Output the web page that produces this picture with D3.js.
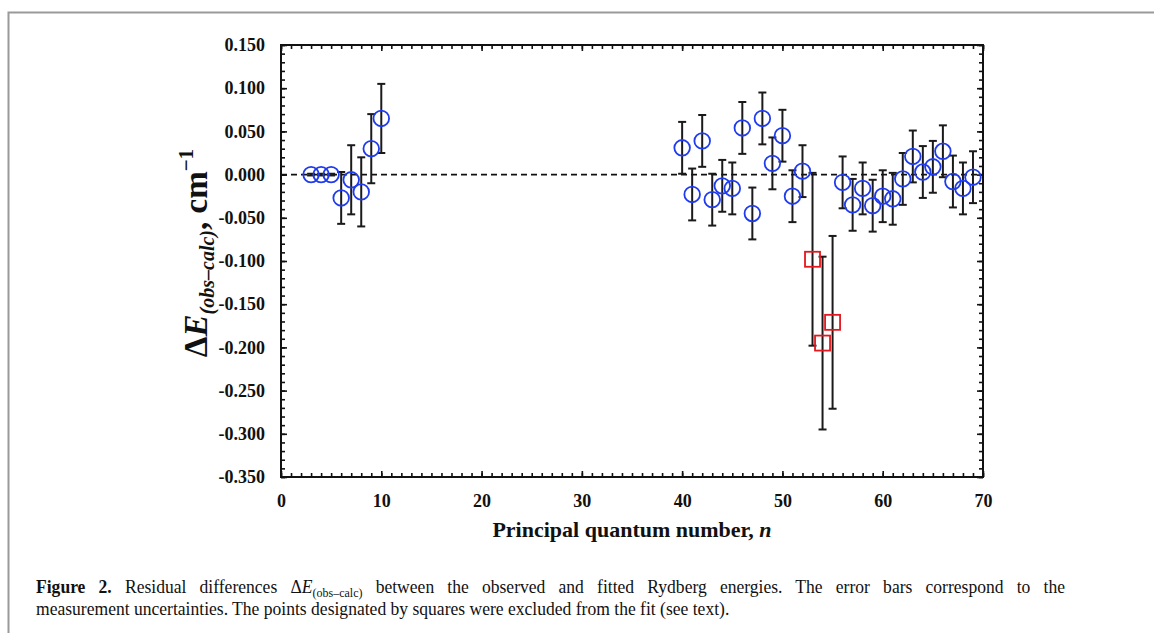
<!DOCTYPE html>
<html>
<head>
<meta charset="utf-8">
<script src="https://cdn.jsdelivr.net/npm/d3@7"></script>
<style>
  body { margin: 0; background: #fff; }
  svg { display: block; }
  .tick text { font-family: "Liberation Serif", "Times New Roman", serif; font-weight: bold; }
</style>
</head>
<body>
<div id="chart"></div>
<script>
// residuals of the fitted levels (circles) and excluded points (squares)
const nCircle = [3, 4, 5, 6, 7, 8, 9, 10,
  40, 41, 42, 43, 44, 45, 46, 47, 48, 49, 50, 51, 52,
  56, 57, 58, 59, 60, 61, 62, 63, 64, 65, 66, 67, 68, 69];
const dECircle = [0.000, 0.000, 0.000, -0.027, -0.006, -0.020, 0.030, 0.065,
  0.031, -0.023, 0.039, -0.029, -0.013, -0.016, 0.054, -0.045, 0.065, 0.013, 0.045, -0.025, 0.004,
  -0.009, -0.035, -0.016, -0.036, -0.025, -0.028, -0.005, 0.021, 0.003, 0.009, 0.027, -0.008, -0.016, -0.003];
const errCircle = [0.001, 0.001, 0.001, 0.030, 0.040, 0.040, 0.040, 0.040,
  0.030, 0.030, 0.030, 0.030, 0.030, 0.030, 0.030, 0.030, 0.030, 0.030, 0.030, 0.030, 0.030,
  0.030, 0.030, 0.030, 0.030, 0.030, 0.030, 0.030, 0.030, 0.030, 0.030, 0.030, 0.030, 0.030, 0.030];

const nSquare = [53, 54, 55];
const dESquare = [-0.098, -0.195, -0.171];
const errSquare = [0.100, 0.100, 0.100];

const xTickValues = [0, 10, 20, 30, 40, 50, 60, 70];
const xTickLabels = ["0", "10", "20", "30", "40", "50", "60", "70"];
const yTickValues = [0.15, 0.10, 0.05, 0.00, -0.05, -0.10, -0.15, -0.20, -0.25, -0.30, -0.35];
const yTickLabels = ["0.150", "0.100", "0.050", "0.000", "-0.050", "-0.100", "-0.150",
  "-0.200", "-0.250", "-0.300", "-0.350"];

const W = 1154, H = 633;
const margin = { top: 45, left: 281, right: 171, bottom: 156 };
const width = W - margin.left - margin.right;
const height = H - margin.top - margin.bottom;
const serif = '"Liberation Serif", "Times New Roman", serif';

const svg = d3.select("#chart").append("svg")
  .attr("width", W)
  .attr("height", H);

// figure frame (top and left edges only)
svg.append("path")
  .attr("d", `M8.5,${H} V12.5 H${W}`)
  .attr("fill", "none")
  .attr("stroke", "#9a9a9a")
  .attr("stroke-width", 2);

const g = svg.append("g").attr("transform", `translate(${margin.left},${margin.top})`);

const x = d3.scaleLinear().domain([0, 70]).range([0, width]);
const y = d3.scaleLinear().domain([-0.35, 0.15]).range([height, 0]);

const minorX = d3.range(0, 71, 1);
const minorY = d3.range(-35, 16, 1).map(d => d / 100);

// ticks on all four sides, pointing inward
function drawAxis(axisFn, scale, values, size, transform, labels) {
  const ax = axisFn(scale).tickValues(values).tickSizeInner(-size).tickSizeOuter(0);
  if (labels) ax.tickFormat((d, i) => labels[i]).tickPadding(size + 10);
  else ax.tickFormat("");
  const sel = g.append("g").attr("transform", transform).call(ax);
  sel.select(".domain").remove();
  sel.selectAll("line").attr("stroke", "#111").attr("stroke-width", 1.6);
  return sel;
}

drawAxis(d3.axisBottom, x, minorX, 4, `translate(0,${height})`);
drawAxis(d3.axisTop, x, minorX, 4, "translate(0,0)");
drawAxis(d3.axisLeft, y, minorY, 4, "translate(0,0)");
drawAxis(d3.axisRight, y, minorY, 4, `translate(${width},0)`);

const xb = drawAxis(d3.axisBottom, x, xTickValues, 6, `translate(0,${height})`, xTickLabels);
xb.selectAll("text").attr("font-size", 18).attr("fill", "#111").attr("dy", "0.71em")
  .attr("y", 17);
drawAxis(d3.axisTop, x, xTickValues, 6, "translate(0,0)");
const yl = drawAxis(d3.axisLeft, y, yTickValues, 6, "translate(0,0)", yTickLabels);
yl.selectAll("text").attr("font-size", 18).attr("fill", "#111").attr("x", -16);
drawAxis(d3.axisRight, y, yTickValues, 6, `translate(${width},0)`);

g.append("rect")
  .attr("width", width)
  .attr("height", height)
  .attr("fill", "none")
  .attr("stroke", "#111")
  .attr("stroke-width", 2);

// zero line
g.append("line")
  .attr("x1", x(0)).attr("x2", x(70))
  .attr("y1", y(0)).attr("y2", y(0))
  .attr("stroke", "#111")
  .attr("stroke-width", 1.6)
  .attr("stroke-dasharray", "6,4");

const circles = nCircle.map((n, i) => ({ n, v: dECircle[i], e: errCircle[i] }));
const squares = nSquare.map((n, i) => ({ n, v: dESquare[i], e: errSquare[i] }));
const all = circles.concat(squares);

// error bars
const cap = 4;
const eb = g.append("g").attr("stroke", "#1a1a1a").attr("stroke-width", 2);
eb.selectAll(".stem").data(all).enter().append("line")
  .attr("x1", d => x(d.n)).attr("x2", d => x(d.n))
  .attr("y1", d => y(d.v + d.e)).attr("y2", d => y(d.v - d.e));
eb.selectAll(".capTop").data(all).enter().append("line")
  .attr("x1", d => x(d.n) - cap).attr("x2", d => x(d.n) + cap)
  .attr("y1", d => y(d.v + d.e)).attr("y2", d => y(d.v + d.e));
eb.selectAll(".capBot").data(all).enter().append("line")
  .attr("x1", d => x(d.n) - cap).attr("x2", d => x(d.n) + cap)
  .attr("y1", d => y(d.v - d.e)).attr("y2", d => y(d.v - d.e));

g.selectAll(".pt").data(circles).enter().append("circle")
  .attr("cx", d => x(d.n))
  .attr("cy", d => y(d.v))
  .attr("r", 7.8)
  .attr("fill", "none")
  .attr("stroke", "#1f3bf0")
  .attr("stroke-width", 1.8);

const s = 15;
g.selectAll(".sq").data(squares).enter().append("rect")
  .attr("x", d => x(d.n) - s / 2)
  .attr("y", d => y(d.v) - s / 2)
  .attr("width", s)
  .attr("height", s)
  .attr("fill", "none")
  .attr("stroke", "#e3171d")
  .attr("stroke-width", 1.8);

// axis titles
const xt = svg.append("text")
  .attr("x", margin.left + width / 2)
  .attr("y", 537)
  .attr("text-anchor", "middle")
  .attr("font-family", serif)
  .attr("font-weight", "bold")
  .attr("font-size", 22)
  .attr("fill", "#111");
xt.append("tspan").text("Principal quantum number, ");
xt.append("tspan").attr("font-style", "italic").text("n");

const yt = svg.append("text")
  .attr("transform", "translate(207,253) rotate(-90)")
  .attr("text-anchor", "middle")
  .attr("font-family", serif)
  .attr("font-weight", "bold")
  .attr("font-size", 33)
  .attr("fill", "#111");
yt.append("tspan").text("Δ");
yt.append("tspan").attr("font-style", "italic").text("E");
yt.append("tspan").attr("font-style", "italic").attr("font-size", 20).attr("dy", 7).text("(obs–calc)");
yt.append("tspan").attr("dy", -7).text(", cm");
yt.append("tspan").attr("font-size", 21).attr("dy", -14).text("−1");

// caption: narrow serif, first line justified to x = 1065, last line ends near x = 730
const capG = svg.append("g");
const cap1 = capG.append("text")
  .attr("y", 593)
  .attr("font-family", serif)
  .attr("font-size", 19)
  .attr("fill", "#111");
cap1.append("tspan").attr("font-weight", "bold").text("Figure 2.");
cap1.append("tspan").text(" Residual differences Δ");
cap1.append("tspan").attr("font-style", "italic").text("E");
cap1.append("tspan").attr("font-size", 13).attr("dy", 4).text("(obs–calc)");
cap1.append("tspan").attr("dy", -4).text(" between the observed and fitted Rydberg energies. The error bars correspond to the");

const cap2 = capG.append("text")
  .attr("y", 615)
  .attr("font-family", serif)
  .attr("font-size", 19)
  .attr("fill", "#111")
  .text("measurement uncertainties. The points designated by squares were excluded from the fit (see text).");

const sx = 694 / cap2.node().getComputedTextLength();
capG.attr("transform", `translate(36,0) scale(${sx},1)`);
const spaces = cap1.text().split(" ").length - 1;
const extra = (1029 / sx - cap1.node().getComputedTextLength()) / spaces;
cap1.attr("word-spacing", Math.max(0, extra));
</script>
</body>
</html>
